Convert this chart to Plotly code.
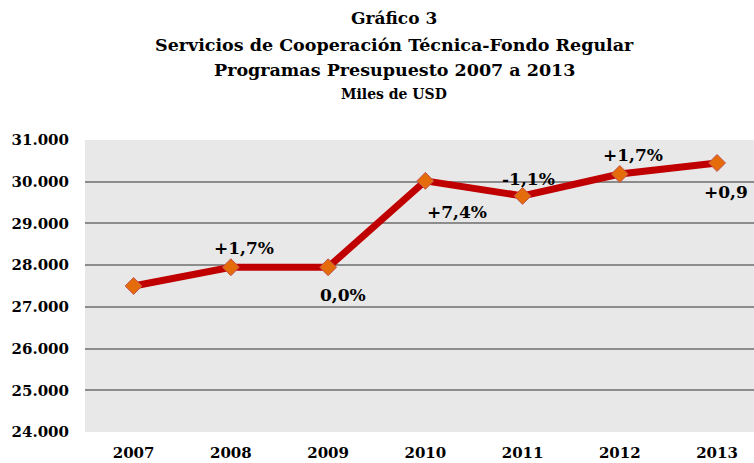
import plotly.graph_objects as go

years = ["2007", "2008", "2009", "2010", "2011", "2012", "2013"]
values = [27500, 27950, 27950, 30020, 29660, 30185, 30450]
labels = ["", "+1,7%", "0,0%", "+7,4%", "-1,1%", "+1,7%", "+0,9"]
label_xshift = [0, 13, 15, 32, 6, 13, 9]
label_yshift = [0, 19, -28, -31, 17, 19, -29]
y_ticks = [24000, 25000, 26000, 27000, 28000, 29000, 30000, 31000]
y_ticktext = ["24.000", "25.000", "26.000", "27.000", "28.000", "29.000", "30.000", "31.000"]
titles = ["Gráfico 3", "Servicios de Cooperación Técnica-Fondo Regular",
          "Programas Presupuesto 2007 a 2013", "Miles de USD"]

FONT = "DejaVu Serif"
W, H = 754, 463
ML, MR, MT, MB = 85, 0, 140, 31

fig = go.Figure()
fig.add_trace(go.Scatter(
    x=list(range(len(years))), y=values, mode="lines+markers",
    line=dict(color="#c00000", width=7),
    marker=dict(symbol="diamond", size=13, color="#e46c0a",
                line=dict(color="#c0504d", width=1)),
    hoverinfo="skip", showlegend=False,
))

for i, (lab, xs, ys) in enumerate(zip(labels, label_xshift, label_yshift)):
    if lab:
        fig.add_annotation(x=i, y=values[i], xref="x", yref="y", text="<b>%s</b>" % lab,
                           showarrow=False, xshift=xs, yshift=ys,
                           font=dict(family=FONT, size=17, color="#000000"))

title_sizes = [17, 17.5, 17.5, 14]
title_ypx = [18, 45, 70, 94]
plot_h = H - MT - MB
plot_w = W - ML - MR
for t, s, ypx in zip(titles, title_sizes, title_ypx):
    fig.add_annotation(x=(394 - ML) / plot_w, xref="paper",
                       y=(H - MB - ypx) / plot_h, yref="paper",
                       xanchor="center", yanchor="middle",
                       text="<b>%s</b>" % t, showarrow=False,
                       font=dict(family=FONT, size=s, color="#000000"))

fig.update_layout(
    width=W, height=H,
    margin=dict(l=ML, r=MR, t=MT, b=MB),
    paper_bgcolor="#ffffff", plot_bgcolor="#e8e8e8",
    font=dict(family=FONT, size=15, color="#000000"),
    xaxis=dict(range=[-0.5, 6.38], tickmode="array",
               tickvals=list(range(len(years))),
               ticktext=["<b>%s</b>" % y for y in years],
               showgrid=False, zeroline=False, showline=False, ticks="",
               ticklabelstandoff=10, automargin=False,
               tickfont=dict(family=FONT, size=15)),
    yaxis=dict(range=[24000, 31000], tickmode="array", tickvals=y_ticks,
               ticktext=["<b>%s</b>" % t for t in y_ticktext],
               showgrid=True, gridcolor="#8c8c8c", gridwidth=1.5,
               zeroline=False, showline=False, ticks="", ticklen=0,
               ticklabelstandoff=15, automargin=False,
               tickfont=dict(family=FONT, size=15)),
)

fig.write_html("out.html")
